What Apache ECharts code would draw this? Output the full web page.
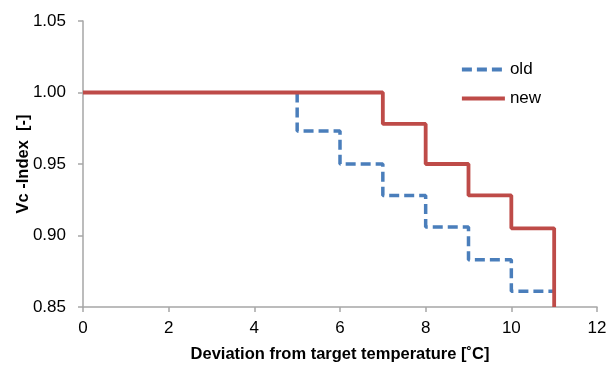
<!DOCTYPE html>
<html>
<head>
<meta charset="utf-8">
<script src="https://cdn.jsdelivr.net/npm/echarts@6/dist/echarts.min.js"></script>
<style>
  html, body { margin: 0; padding: 0; background: #fff; }
  #chart { width: 609px; height: 365px; }
</style>
</head>
<body>
<div id="chart"></div>
<script>
// old: value held on the interval ending at each x (step "start")
const oldX = [5, 6, 7, 8, 9, 10, 11]
const oldY = [1.0, 0.973, 0.95, 0.928, 0.906, 0.883, 0.861]
// new: value reached at each x (step "end")
const newX = [0, 7, 8, 9, 10, 11]
const newY = [1.0, 0.978, 0.95, 0.928, 0.905, 0.85]

const pairs = (xs, ys) => xs.map((x, i) => [x, ys[i]])

const chart = echarts.init(document.getElementById("chart"))
const font = "Liberation Sans, Arial, sans-serif"
const axisGray = "#a6a6a6"

chart.setOption({
  animation: false,
  backgroundColor: "#fff",
  textStyle: { fontFamily: font },
  grid: { left: 83, right: 12, top: 21, bottom: 58, containLabel: false, outerBoundsMode: "none" },
  legend: {
    orient: "vertical",
    left: 455,
    top: 56,
    itemWidth: 43,
    itemHeight: 4,
    itemGap: 12,
    itemStyle: { opacity: 0 },
    lineStyle: { width: 3.8 },
    textStyle: { fontSize: 17, color: "#000", fontFamily: font },
    data: ["old", "new"],
  },
  xAxis: {
    type: "value",
    min: 0,
    max: 12,
    interval: 2,
    name: "Deviation from target temperature [˚C]",
    nameLocation: "middle",
    nameGap: 39,
    nameTextStyle: { fontSize: 16.5, fontWeight: "bold", color: "#000", fontFamily: font },
    axisLine: { lineStyle: { color: axisGray, width: 1.5 } },
    axisTick: { show: true, length: 5, lineStyle: { color: axisGray, width: 1.5 } },
    axisLabel: { fontSize: 17, color: "#000", margin: 13 },
    splitLine: { show: false },
  },
  yAxis: {
    type: "value",
    min: 0.85,
    max: 1.05,
    interval: 0.05,
    name: "Vc -Index  [-]",
    nameLocation: "middle",
    nameGap: 51,
    nameMoveOverlap: false,
    nameRotate: 90,
    nameTextStyle: { fontSize: 16.5, fontWeight: "bold", color: "#000", fontFamily: font },
    axisLine: { show: true, lineStyle: { color: axisGray, width: 1.5 } },
    axisTick: { show: true, length: 5, lineStyle: { color: axisGray, width: 1.5 } },
    axisLabel: { fontSize: 17, color: "#000", margin: 17, formatter: (v) => v.toFixed(2) },
    splitLine: { show: false },
  },
  series: [
    {
      name: "old",
      type: "line",
      step: "start",
      symbol: "none",
      data: pairs(oldX, oldY),
      lineStyle: { color: "#4a7ebb", width: 3.5, type: [10, 5] },
      itemStyle: { color: "#4a7ebb" },
    },
    {
      name: "new",
      type: "line",
      step: "end",
      symbol: "none",
      data: pairs(newX, newY),
      lineStyle: { color: "#be4b48", width: 3.8 },
      itemStyle: { color: "#be4b48" },
    },
  ],
})
</script>
</body>
</html>
